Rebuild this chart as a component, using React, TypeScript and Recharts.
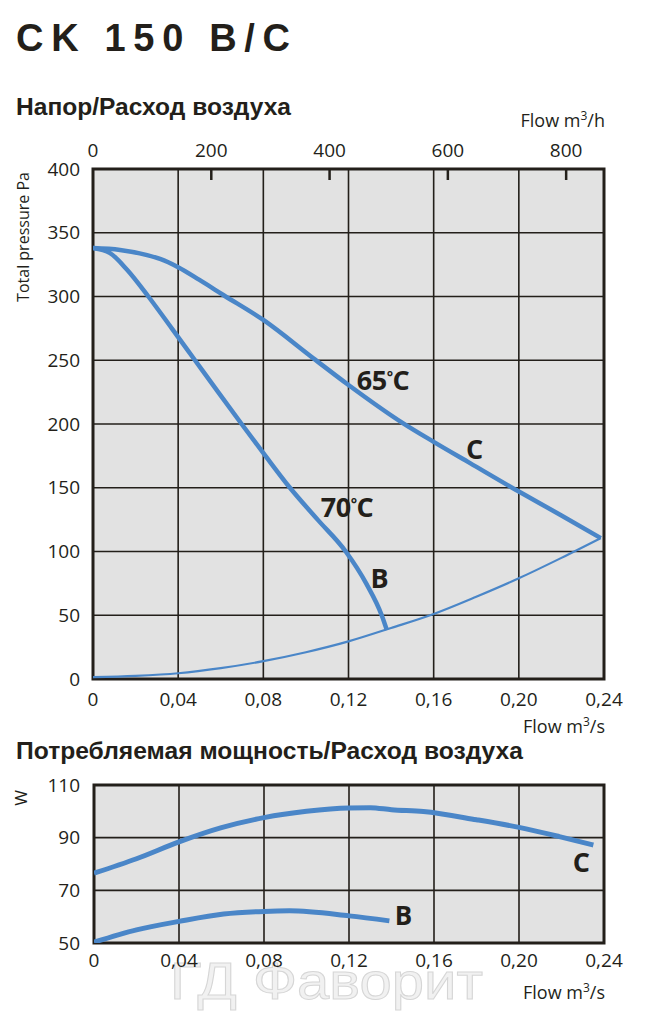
import React from 'react';
import {
  LineChart,
  Line,
  XAxis,
  YAxis,
  CartesianGrid,
  ReferenceArea,
  ReferenceDot,
  ReferenceLine,
} from 'recharts';

// ---------- styling constants ----------
const INK = '#231f1a';
const BLUE = '#4a86c8';
const BG = '#e2e2e2';
const FONT = '"Open Sans", "Noto Sans", sans-serif';
const BOLD = '"Liberation Sans", Arial, sans-serif';

// ---------- axis ticks ----------
const flowTicks = [0, 0.04, 0.08, 0.12, 0.16, 0.2, 0.24];
const flowHourTicks = [0, 200, 400, 600, 800];
const pressureTicks = [0, 50, 100, 150, 200, 250, 300, 350, 400];
const powerTicks = [50, 70, 90, 110];

// ---------- pressure / flow (Pa vs m3/s) ----------
const pressureC = [
  { q: 0, p: 338 },
  { q: 0.0127, p: 336.5 },
  { q: 0.0254, p: 332.5 },
  { q: 0.0315, p: 329.5 },
  { q: 0.04, p: 323 },
  { q: 0.05, p: 313 },
  { q: 0.0612, p: 301.2 },
  { q: 0.08, p: 281.6 },
  { q: 0.1035, p: 251.5 },
  { q: 0.12, p: 230.6 },
  { q: 0.1457, p: 200.5 },
  { q: 0.16, p: 186 },
  { q: 0.1771, p: 169.3 },
  { q: 0.2, p: 147 },
  { q: 0.22, p: 128.3 },
  { q: 0.2385, p: 110.5 },
];

const pressureB = [
  { q: 0, p: 338 },
  { q: 0.008, p: 334 },
  { q: 0.016, p: 321 },
  { q: 0.026, p: 300 },
  { q: 0.037, p: 275 },
  { q: 0.0479, p: 250 },
  { q: 0.0588, p: 225 },
  { q: 0.0698, p: 200 },
  { q: 0.081, p: 175 },
  { q: 0.0925, p: 150 },
  { q: 0.1055, p: 125 },
  { q: 0.1187, p: 100 },
  { q: 0.1283, p: 75 },
  { q: 0.1356, p: 50 },
  { q: 0.138, p: 38.4 },
];

const systemCurve = [
  { q: 0, p: 1.5 },
  { q: 0.02, p: 2.5 },
  { q: 0.04, p: 4.5 },
  { q: 0.06, p: 8.5 },
  { q: 0.08, p: 14 },
  { q: 0.1, p: 21 },
  { q: 0.12, p: 29.5 },
  { q: 0.14, p: 40 },
  { q: 0.16, p: 51 },
  { q: 0.18, p: 64.5 },
  { q: 0.2, p: 79 },
  { q: 0.22, p: 95 },
  { q: 0.2385, p: 110.5 },
];

// ---------- power / flow (W vs m3/s) ----------
const powerC = [
  { q: 0, w: 76.5 },
  { q: 0.02, w: 82 },
  { q: 0.04, w: 88.4 },
  { q: 0.06, w: 93.8 },
  { q: 0.08, w: 97.6 },
  { q: 0.1, w: 100 },
  { q: 0.12, w: 101.3 },
  { q: 0.13, w: 101.4 },
  { q: 0.14, w: 100.6 },
  { q: 0.155, w: 99.9 },
  { q: 0.18, w: 96.8 },
  { q: 0.2, w: 93.9 },
  { q: 0.219, w: 90.4 },
  { q: 0.235, w: 87.2 },
];

const powerB = [
  { q: 0, w: 50.3 },
  { q: 0.02, w: 55 },
  { q: 0.04, w: 58.2 },
  { q: 0.061, w: 61 },
  { q: 0.08, w: 62 },
  { q: 0.092, w: 62.2 },
  { q: 0.12, w: 60.3 },
  { q: 0.139, w: 58.4 },
];

// ---------- curve annotations ----------
const pressureLabels = [
  { q: 0.1362, p: 234.5, main: '65', unit: 'C' },
  { q: 0.1792, p: 180, main: 'C', unit: '' },
  { q: 0.1193, p: 134.5, main: '70', unit: 'C' },
  { q: 0.1346, p: 78.8, main: 'B', unit: '' },
];
const powerLabels = [
  { q: 0.2294, w: 80.6, main: 'C', unit: '' },
  { q: 0.1456, w: 60.4, main: 'B', unit: '' },
];

const SECONDS_PER_HOUR = 3600;

const fmtFlow = (v: number) => (v === 0 ? '0' : v.toFixed(2).replace('.', ','));

const tickStyle = { fill: INK, fontSize: 19, fontFamily: FONT };

const makeHourTickShape = (value: number) => (props: any) => {
  const { x1, y1, y2 } = props;
  const top = Math.min(y1, y2);
  return (
    <g>
      <text x={x1} y={top - 12} textAnchor="middle" fill={INK} fontSize={19} fontFamily={FONT}>
        {value}
      </text>
      {value !== 0 && (
        <line x1={x1} x2={x1} y1={top} y2={top + 11} stroke={INK} strokeWidth={2.5} />
      )}
    </g>
  );
};

const makeLabelShape = (main: string, unit: string, size: number) => (props: any) => {
  const { cx, cy } = props;
  return (
    <text
      x={cx}
      y={cy + size * 0.36}
      textAnchor="middle"
      fill={INK}
      fontSize={size}
      fontWeight={700}
      fontFamily={FONT}
      letterSpacing={unit ? -0.5 : 0}
    >
      {main}
      {unit && (
        <>
          <tspan fontSize={size * 0.55} dy={-size * 0.3}>
            °
          </tspan>
          <tspan dy={size * 0.3}>{unit}</tspan>
        </>
      )}
    </text>
  );
};

const Overlay = () => (
  <svg width={650} height={1019} style={{ position: 'absolute', left: 0, top: 0 }}>
    <text
      x={16}
      y={51}
      fontSize={38}
      fontWeight={700}
      fontFamily={BOLD}
      fill={INK}
      textLength={274}
      lengthAdjust="spacing"
    >
      CK 150 B/C
    </text>
    <text
      x={16}
      y={115}
      fontSize={23}
      fontWeight={700}
      fontFamily={BOLD}
      fill={INK}
      textLength={275}
      lengthAdjust="spacingAndGlyphs"
    >
      Напор/Расход воздуха
    </text>
    <text
      x={16}
      y={759}
      fontSize={23}
      fontWeight={700}
      fontFamily={BOLD}
      fill={INK}
      textLength={507}
      lengthAdjust="spacingAndGlyphs"
    >
      Потребляемая мощность/Расход воздуха
    </text>
    <text
      transform="translate(29,237) rotate(-90)"
      x={0}
      y={0}
      textAnchor="middle"
      fontSize={16}
      fontFamily={FONT}
      fill={INK}
    >
      Total pressure Pa
    </text>
    <text
      transform="translate(27,798) rotate(-90)"
      x={0}
      y={0}
      textAnchor="middle"
      fontSize={17}
      fontFamily={FONT}
      fill={INK}
    >
      W
    </text>
    <text x={605} y={127} textAnchor="end" fontSize={18} fontFamily={FONT} fill={INK}>
      Flow m<tspan dy={-7} fontSize={12}>3</tspan>
      <tspan dy={7}>/h</tspan>
    </text>
    <text x={605} y={733} textAnchor="end" fontSize={18} fontFamily={FONT} fill={INK}>
      Flow m<tspan dy={-7} fontSize={12}>3</tspan>
      <tspan dy={7}>/s</tspan>
    </text>
    <text x={605} y={999} textAnchor="end" fontSize={18} fontFamily={FONT} fill={INK}>
      Flow m<tspan dy={-7} fontSize={12}>3</tspan>
      <tspan dy={7}>/s</tspan>
    </text>
    <text
      x={170}
      y={999}
      fontSize={52}
      fontFamily={BOLD}
      fill="#f1f1f1"
      stroke="#d6d6d6"
      strokeWidth={1}
      textLength={313}
      lengthAdjust="spacingAndGlyphs"
    >
      ГД Фаворит
    </text>
  </svg>
);

const PressureChart = () => (
  <div style={{ position: 'absolute', left: 0, top: 0 }}>
    <LineChart width={650} height={760} margin={{ top: 169, right: 46, bottom: 51, left: 33 }}>
      <CartesianGrid stroke={INK} strokeWidth={1.6} fill={BG} fillOpacity={1} />
      <XAxis
        dataKey="q"
        type="number"
        domain={[0, 0.24]}
        ticks={flowTicks}
        interval={0}
        allowDataOverflow
        tickFormatter={fmtFlow}
        tickSize={0}
        tickMargin={14}
        axisLine={false}
        tick={tickStyle}
        height={30}
      />
      <YAxis
        type="number"
        domain={[0, 400]}
        ticks={pressureTicks}
        interval={0}
        allowDataOverflow
        tickSize={0}
        tickMargin={13}
        axisLine={false}
        tick={tickStyle}
        width={60}
      />
      {flowHourTicks.map((h) => (
        <ReferenceLine
          key={'h' + h}
          x={h / SECONDS_PER_HOUR}
          ifOverflow="visible"
          shape={makeHourTickShape(h)}
        />
      ))}
      <ReferenceArea
        x1={0}
        x2={0.24}
        y1={0}
        y2={400}
        fill="none"
        stroke={INK}
        strokeWidth={3}
        ifOverflow="visible"
      />
      <Line
        data={systemCurve}
        dataKey="p"
        type="monotone"
        stroke={BLUE}
        strokeWidth={2.2}
        dot={false}
        isAnimationActive={false}
      />
      <Line
        data={pressureC}
        dataKey="p"
        type="monotone"
        stroke={BLUE}
        strokeWidth={4.5}
        dot={false}
        isAnimationActive={false}
      />
      <Line
        data={pressureB}
        dataKey="p"
        type="monotone"
        stroke={BLUE}
        strokeWidth={4.5}
        dot={false}
        isAnimationActive={false}
      />
      {pressureLabels.map((l) => (
        <ReferenceDot
          key={l.main + l.q}
          x={l.q}
          y={l.p}
          r={0}
          shape={makeLabelShape(l.main, l.unit, 27)}
        />
      ))}
    </LineChart>
  </div>
);

const PowerChart = () => (
  <div style={{ position: 'absolute', left: 0, top: 760 }}>
    <LineChart width={650} height={259} margin={{ top: 25, right: 46, bottom: 46, left: 34 }}>
      <CartesianGrid stroke={INK} strokeWidth={1.6} fill={BG} fillOpacity={1} />
      <XAxis
        dataKey="q"
        type="number"
        domain={[0, 0.24]}
        ticks={flowTicks}
        interval={0}
        allowDataOverflow
        tickFormatter={fmtFlow}
        tickSize={0}
        tickMargin={11}
        axisLine={false}
        tick={tickStyle}
        height={30}
      />
      <YAxis
        type="number"
        domain={[50, 110]}
        ticks={powerTicks}
        interval={0}
        allowDataOverflow
        tickSize={0}
        tickMargin={14}
        axisLine={false}
        tick={tickStyle}
        width={60}
      />
      <ReferenceArea
        x1={0}
        x2={0.24}
        y1={50}
        y2={110}
        fill="none"
        stroke={INK}
        strokeWidth={3}
        ifOverflow="visible"
      />
      <Line
        data={powerC}
        dataKey="w"
        type="monotone"
        stroke={BLUE}
        strokeWidth={5}
        dot={false}
        isAnimationActive={false}
      />
      <Line
        data={powerB}
        dataKey="w"
        type="monotone"
        stroke={BLUE}
        strokeWidth={5}
        dot={false}
        isAnimationActive={false}
      />
      {powerLabels.map((l) => (
        <ReferenceDot
          key={l.main + l.q}
          x={l.q}
          y={l.w}
          r={0}
          shape={makeLabelShape(l.main, l.unit, l.main === 'B' ? 26 : 27)}
        />
      ))}
    </LineChart>
  </div>
);

export default function App() {
  return (
    <div
      style={{
        position: 'absolute',
        left: 0,
        top: 0,
        width: 650,
        height: 1019,
        background: '#ffffff',
        overflow: 'hidden',
      }}
    >
      <Overlay />
      <PressureChart />
      <PowerChart />
    </div>
  );
}
